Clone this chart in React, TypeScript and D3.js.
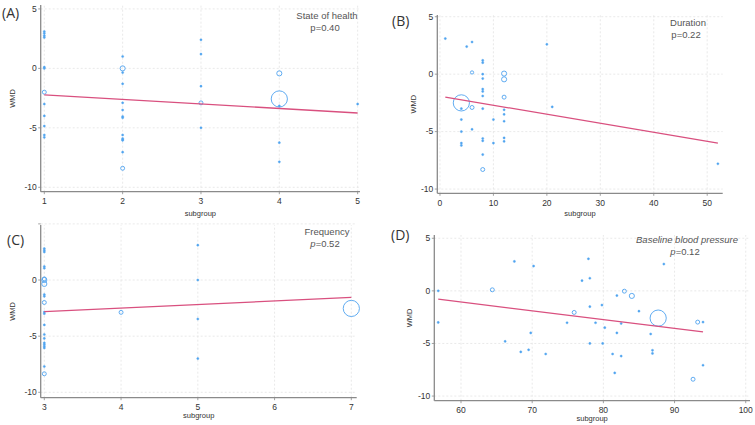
import React from "react";
import * as d3 from "d3";

// Meta-regression of WMD on subgroup moderators, four panels.
// Each study: [subgroup value, WMD, weight]

const studiesHealth: [number, number, number][] = [
  [1, 3.1, 1], [1, 2.95, 1], [1, 2.75, 1], [1, 2.6, 1], [1, 0.1, 1], [1, 0.0, 1],
  [1, -2.0, 3], [1, -3.0, 1], [1, -4.0, 1], [1, -4.85, 1], [1, -5.6, 1], [1, -5.8, 1],
  [2, 1.0, 1], [2, 0.0, 5], [2, -0.35, 1], [2, -1.3, 1], [2, -2.9, 1], [2, -3.5, 1],
  [2, -4.05, 1], [2, -4.15, 1], [2, -5.6, 1], [2, -5.9, 1], [2, -6.0, 1], [2, -6.05, 1],
  [2, -7.05, 1], [2, -8.4, 3],
  [3, 2.4, 1], [3, 1.2, 1], [3, -1.5, 1], [3, -2.9, 3], [3, -5.0, 1],
  [4, -0.42, 5], [4, -2.57, 50], [4, -3.16, 1], [4, -6.25, 1], [4, -7.86, 1],
  [5, -3.0, 1],
];

const studiesDuration: [number, number, number][] = [
  [1, 3.1, 1], [5, 2.4, 1], [6, 2.8, 1], [6, 0.15, 2], [8, 1.2, 1], [8, 1.0, 1],
  [8, 0.0, 1], [8, -0.38, 1], [8, -1.3, 1], [8, -1.5, 1], [8, -1.9, 1], [8, -3.0, 1],
  [8, -5.6, 1], [8, -5.8, 1], [8, -7.0, 1], [8, -8.3, 3], [4, -2.5, 50], [4, -3.0, 1],
  [4, -3.95, 1], [4, -5.0, 1], [4, -6.0, 1], [4, -6.2, 1], [6, -2.9, 3], [6, -4.8, 1],
  [10, -3.95, 1], [10, -6.0, 1], [12, 0.05, 5], [12, -0.45, 5], [12, -2.0, 3],
  [12, -3.1, 1], [12, -3.5, 1], [12, -4.1, 1], [12, -5.55, 1], [12, -5.85, 1],
  [20, 2.6, 1], [21, -2.85, 1], [52, -7.8, 1],
];

const studiesFrequency: [number, number, number][] = [
  [3, 2.8, 1], [3, 2.65, 1], [3, 2.5, 1], [3, 1.2, 1], [3, 1.05, 1], [3, 0.1, 3],
  [3, 0.0, 5], [3, -0.35, 5], [3, -1.3, 1], [3, -1.45, 1], [3, -2.0, 3], [3, -2.85, 1],
  [3, -3.0, 1], [3, -4.0, 1], [3, -4.85, 1], [3, -5.2, 1], [3, -5.6, 1], [3, -5.75, 1],
  [3, -5.9, 1], [3, -6.05, 1], [3, -7.7, 1], [3, -8.35, 3],
  [4, -2.88, 3],
  [5, 3.1, 1], [5, 0.0, 1], [5, -3.47, 1], [5, -7.0, 1],
  [7, -2.53, 50],
];

const studiesBaseline: [number, number, number][] = [
  [56.8, 0.0, 1], [56.8, -3.0, 1], [64.4, 0.1, 3], [67.5, 2.8, 1], [70.2, 2.36, 1],
  [66.2, -4.8, 1], [69.8, -4.0, 1], [68.4, -5.8, 1], [69.5, -5.6, 1], [71.9, -6.0, 1],
  [74.9, -3.03, 1], [75.9, -2.05, 3], [77.0, 0.97, 1], [77.9, 3.05, 1], [78.1, 1.2, 1],
  [78.1, -1.5, 1], [78.1, -5.0, 1], [78.9, -3.03, 1], [79.8, -1.35, 1], [79.9, -5.0, 1],
  [80.2, -3.5, 1], [81.3, -6.0, 1], [81.6, -7.8, 1], [81.9, -0.45, 1], [81.9, -4.0, 1],
  [82.5, -3.1, 1], [82.5, -6.2, 1], [82.95, -0.03, 3], [84.0, -0.48, 5], [85.0, -1.93, 1],
  [86.65, -4.1, 1], [86.9, -5.65, 1], [86.9, -5.95, 1], [87.7, -2.59, 50], [88.5, 2.55, 1],
  [93.25, -2.97, 3], [94.0, -2.97, 1], [94.0, -7.07, 1], [92.6, -8.4, 3],
];

// Fitted meta-regression lines: [x, predicted WMD] at the ends of the data
const fitHealth: [number, number][] = [[1, -2.23], [5, -3.75]];
const fitDuration: [number, number][] = [[1, -2.0], [52, -6.0]];
const fitFrequency: [number, number][] = [[3, -2.82], [7, -1.54]];
const fitBaseline: [number, number][] = [[56.8, -0.79], [94.0, -3.9]];

const ticksHealth = [1, 2, 3, 4, 5];
const ticksDuration = [0, 10, 20, 30, 40, 50];
const ticksFrequency = [3, 4, 5, 6, 7];
const ticksBaseline = [60, 70, 80, 90, 100];
const yTicks = [5, 0, -5, -10];

const POINT = "#4fa3ef";
const FIT = "#d9507f";
const AXIS = "#8a8a8a";
const GRID = "#e3e3e3";
const TXT = "#333";
const NOTE = "#555";
const FONT = "'Liberation Sans', Arial, sans-serif";
const TAG_FONT = "'Open Sans', 'Noto Sans', sans-serif";

const rScale = d3.scaleSqrt().domain([0, 50]).range([0, 8.1]);

type PanelProps = {
  tag: string;
  title: string;
  pLabel: string;
  italicTitle?: boolean;
  italicP?: boolean;
  studies: [number, number, number][];
  fit: [number, number][];
  xTicks: number[];
  xDomain: [number, number];
  xRange: [number, number];
  yDomain: [number, number];
  yRange: [number, number];
  yLabels: number[];
  tagPos: [number, number];
  notePos: [number, number];
  wmdX: number;
  subY: number;
};

function Panel(p: PanelProps) {
  const x = d3.scaleLinear().domain(p.xDomain).range(p.xRange);
  const y = d3.scaleLinear().domain(p.yDomain).range(p.yRange);
  const [x0, x1] = p.xRange;
  const [yb, yt] = p.yRange;
  const line = d3
    .line<[number, number]>()
    .x((d) => x(d[0]))
    .y((d) => y(d[1]));
  const sorted = [...p.studies].sort((a, b) => b[2] - a[2]);
  return (
    <g>
      {/* grid */}
      {yTicks.map((t) => (
        <line key={"gy" + t} x1={x0} x2={x1} y1={y(t)} y2={y(t)} stroke={GRID} strokeWidth={0.8} strokeDasharray="2,2" />
      ))}
      {p.xTicks.map((t) => (
        <line key={"gx" + t} x1={x(t)} x2={x(t)} y1={yb} y2={yt} stroke={GRID} strokeWidth={0.8} strokeDasharray="2,2" />
      ))}
      {/* axes */}
      <line x1={x0} x2={x0} y1={yb} y2={yt} stroke={AXIS} strokeWidth={1.3} />
      <line x1={x0} x2={x1} y1={yb} y2={yb} stroke={AXIS} strokeWidth={1.3} />
      {yTicks.map((t) => (
        <line key={"ty" + t} x1={x0 - 2.5} x2={x0} y1={y(t)} y2={y(t)} stroke={AXIS} strokeWidth={0.8} />
      ))}
      {p.yLabels.map((t) => (
        <text key={"ly" + t} x={x0 - 4} y={y(t)} dy="0.33em" textAnchor="end" fontSize={8.5} fill={TXT} fontFamily={FONT}>
          {t}
        </text>
      ))}
      {p.xTicks.map((t) => (
        <g key={"tx" + t}>
          <line x1={x(t)} x2={x(t)} y1={yb} y2={yb + 2.5} stroke={AXIS} strokeWidth={0.8} />
          <text x={x(t)} y={yb + 12.5} textAnchor="middle" fontSize={8.5} fill={TXT} fontFamily={FONT}>
            {t}
          </text>
        </g>
      ))}
      <text
        transform={`translate(${p.wmdX},${(yb + yt) / 2}) rotate(-90)`}
        textAnchor="middle"
        fontSize={7.5}
        fill={TXT}
        fontFamily={FONT}
      >
        WMD
      </text>
      <text x={(x0 + x1) / 2} y={p.subY} textAnchor="middle" fontSize={7.5} fill={TXT} fontFamily={FONT}>
        subgroup
      </text>
      {/* studies */}
      {sorted.map((d, i) => {
        const r = rScale(d[2]);
        const small = r < 1.5;
        return (
          <circle
            key={"s" + i}
            cx={x(d[0])}
            cy={y(d[1])}
            r={small ? 1.1 : r}
            fill={small ? POINT : "none"}
            stroke={POINT}
            strokeWidth={small ? 0.4 : 0.9}
          />
        );
      })}
      {/* fitted line */}
      <path d={line(p.fit) || ""} fill="none" stroke={FIT} strokeWidth={1.3} />
      {/* annotations */}
      <text x={p.tagPos[0]} y={p.tagPos[1]} fontSize={14} fill={TXT} fontFamily={TAG_FONT} dy="0.35em">
        {p.tag}
      </text>
      <text
        x={p.notePos[0]}
        y={p.notePos[1]}
        textAnchor="middle"
        fontSize={9.5}
        fill={NOTE}
        fontFamily={FONT}
        fontStyle={p.italicTitle ? "italic" : "normal"}
      >
        {p.title}
      </text>
      <text x={p.notePos[0] - 2} y={p.notePos[1] + 12} textAnchor="middle" fontSize={9.5} fill={NOTE} fontFamily={FONT}>
        <tspan fontStyle={p.italicP ? "italic" : "normal"}>p</tspan>
        {"=" + p.pLabel}
      </text>
    </g>
  );
}

export default function App() {
  return (
    <svg width={755} height={425} style={{ position: "absolute", left: 0, top: 0, background: "#fff" }}>
      <rect width={755} height={425} fill="#fff" />
      <Panel
        tag="(A)"
        title="State of health"
        pLabel="0.40"
        studies={studiesHealth}
        fit={fitHealth}
        xTicks={ticksHealth}
        xDomain={[0.954, 5.03]}
        xRange={[40.7, 360]}
        yDomain={[-10.37, 5.33]}
        yRange={[191.7, 5]}
        yLabels={yTicks}
        tagPos={[2, 13]}
        notePos={[327, 19]}
        wmdX={15}
        subY={216}
      />
      <Panel
        tag="(B)"
        title="Duration"
        pLabel="0.22"
        studies={studiesDuration}
        fit={fitDuration}
        xTicks={ticksDuration}
        xDomain={[-0.5, 52.9]}
        xRange={[437.3, 722.7]}
        yDomain={[-10.37, 5.15]}
        yRange={[193.3, 15]}
        yLabels={yTicks}
        tagPos={[392, 21]}
        notePos={[688, 26]}
        wmdX={416}
        subY={216}
      />
      <Panel
        tag="(C)"
        title="Frequency"
        pLabel="0.52"
        italicP
        studies={studiesFrequency}
        fit={fitFrequency}
        xTicks={ticksFrequency}
        xDomain={[2.953, 7.07]}
        xRange={[40.7, 356.7]}
        yDomain={[-10.48, 4.9]}
        yRange={[397.7, 225]}
        yLabels={[0, -5, -10]}
        tagPos={[7, 240]}
        notePos={[327, 235]}
        wmdX={15}
        subY={418}
      />
      <Panel
        tag="(D)"
        title="Baseline blood pressure"
        pLabel="0.12"
        italicTitle
        italicP
        studies={studiesBaseline}
        fit={fitBaseline}
        xTicks={ticksBaseline}
        xDomain={[56.25, 100.6]}
        xRange={[434.3, 750]}
        yDomain={[-10.44, 5.31]}
        yRange={[400.7, 235]}
        yLabels={yTicks}
        tagPos={[391, 235]}
        notePos={[687, 243]}
        wmdX={412}
        subY={421}
      />
    </svg>
  );
}
